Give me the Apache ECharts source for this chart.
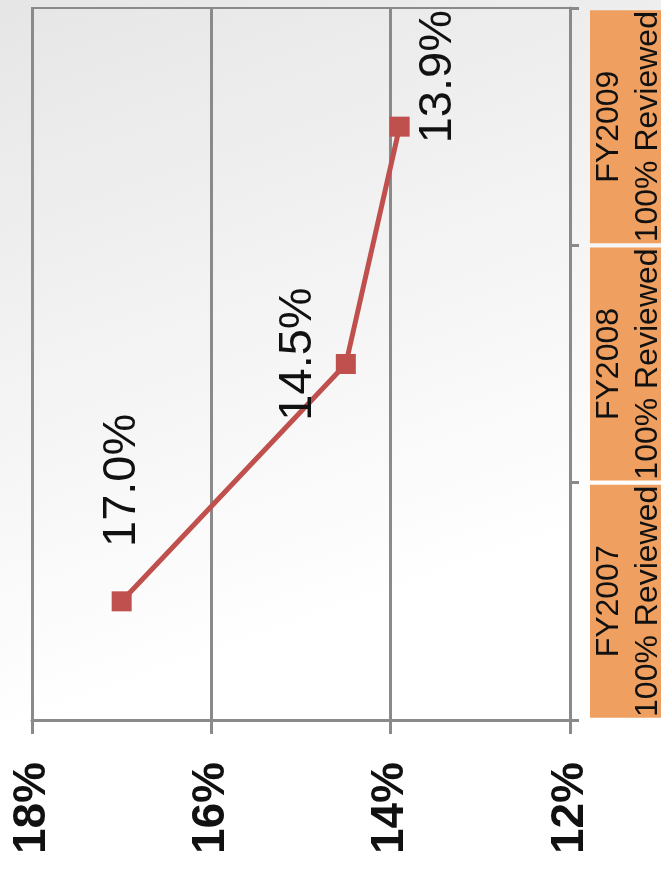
<!DOCTYPE html>
<html>
<head>
<meta charset="utf-8">
<script src="https://cdn.jsdelivr.net/npm/echarts@6/dist/echarts.min.js"></script>
<style>
  html, body { margin: 0; padding: 0; }
  #chart { width: 661px; height: 877px; }
</style>
</head>
<body>
<div id="chart"></div>
<script>
// Fiscal years (bottom to top) and the error rate found in each review
const categories = ['FY2007\n100% Reviewed', 'FY2008\n100% Reviewed', 'FY2009\n100% Reviewed'];
const rates = [17.0, 14.5, 13.9];
const valueTicks = [12, 14, 16, 18];

// Label offsets per point (in the rotated text frame)
const labelOffsets = [[121, 0], [10, -48], [50, 38]];

const chart = echarts.init(document.getElementById('chart'));

const gray = '#8a8a8a';

chart.setOption({
  animation: false,
  backgroundColor: {
    type: 'linear', x: 0, y: 0, x2: 0.35, y2: 0.75,
    colorStops: [
      { offset: 0, color: '#e6e6e6' },
      { offset: 1, color: '#ffffff' }
    ]
  },
  grid: {
    left: 32, right: 91, top: 8, bottom: 157,
    outerBoundsMode: 'none',
    containLabel: false,
    show: true, borderColor: gray, borderWidth: 2, backgroundColor: 'transparent'
  },
  xAxis: {
    type: 'value',
    inverse: true,
    min: valueTicks[0],
    max: valueTicks[valueTicks.length - 1],
    interval: 2,
    position: 'bottom',
    axisLine: { show: true, lineStyle: { color: gray, width: 3 } },
    axisTick: { show: true, length: 14, lineStyle: { color: gray, width: 3 } },
    splitLine: { show: true, lineStyle: { color: gray, width: 3 } },
    axisLabel: {
      rotate: 90,
      margin: 42,
      formatter: v => v + '%',
      fontFamily: 'Liberation Sans, Arial, sans-serif',
      fontSize: 46,
      fontWeight: 'bold',
      color: '#111'
    }
  },
  yAxis: {
    type: 'category',
    data: categories,
    position: 'right',
    axisLine: { show: true, lineStyle: { color: gray, width: 3 } },
    axisTick: { show: true, length: 9, lineStyle: { color: gray, width: 3 } },
    splitLine: { show: false },
    axisLabel: {
      interval: 0,
      hideOverlap: false,
      rotate: 90,
      margin: 20,
      width: 233,
      height: 80,
      lineHeight: 39,
      backgroundColor: '#efa060',
      fontFamily: 'Liberation Sans, Arial, sans-serif',
      fontSize: 32,
      color: '#111',
      overflow: 'none'
    }
  },
  series: [{
    type: 'line',
    data: rates.map((v, i) => ({
      value: v,
      label: { offset: labelOffsets[i] }
    })),
    symbol: 'rect',
    symbolSize: 20,
    lineStyle: { color: '#c0504d', width: 5 },
    itemStyle: { color: '#c0504d' },
    label: {
      show: true,
      position: 'inside',
      rotate: 90,
      formatter: p => p.value.toFixed(1) + '%',
      fontFamily: 'Liberation Sans, Arial, sans-serif',
      fontSize: 47,
      color: '#111'
    }
  }]
});
</script>
</body>
</html>
